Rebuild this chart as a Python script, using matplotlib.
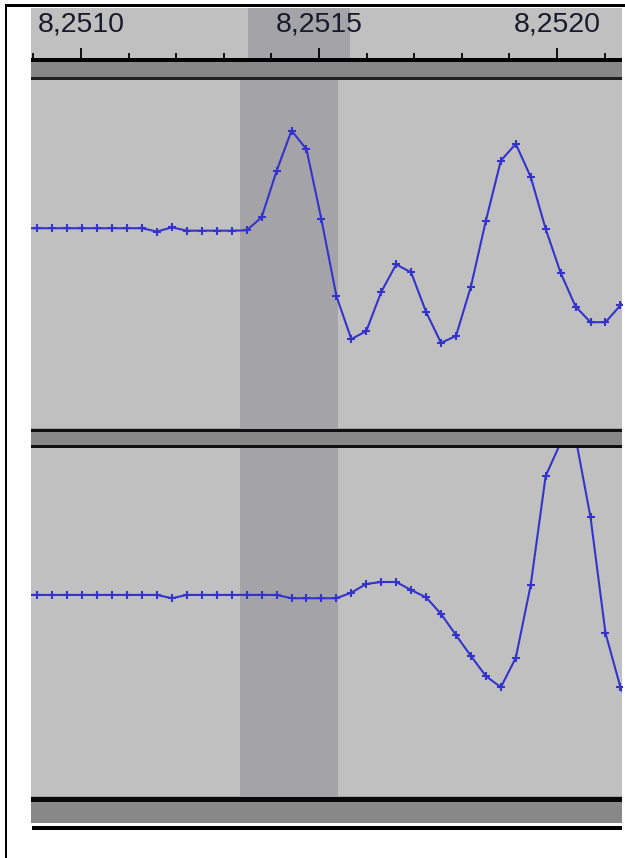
import matplotlib
matplotlib.use("Agg")
import matplotlib.pyplot as plt
from matplotlib.patches import Rectangle
import numpy as np

# ---------------- data ----------------
tick_major = [8.2510, 8.2515, 8.2520]
tick_labels = ["8,2510", "8,2515", "8,2520"]
tick_minor = [8.2509, 8.2511, 8.2512, 8.2513, 8.2514,
              8.2516, 8.2517, 8.2518, 8.2519, 8.2521]

sample_rate = 31840.0          # samples per second (as displayed)
first_sample_time = 8.2508770  # time of the first listed sample

track1 = [0.148, 0.148, 0.148, 0.148, 0.148, 0.148, 0.148, 0.148, 0.148,
          0.129, 0.153, 0.134, 0.134, 0.134, 0.134, 0.136, 0.211, 0.477,
          0.709, 0.602, 0.199, -0.241, -0.489, -0.443, -0.218, -0.060,
          -0.106, -0.333, -0.511, -0.471, -0.187, 0.191, 0.536, 0.633,
          0.443, 0.144, -0.108, -0.302, -0.392, -0.392, -0.295, -0.207]

track2 = [0.158, 0.158, 0.158, 0.158, 0.158, 0.158, 0.158, 0.158, 0.158,
          0.158, 0.139, 0.158, 0.158, 0.158, 0.158, 0.158, 0.158, 0.158,
          0.139, 0.139, 0.139, 0.139, 0.171, 0.221, 0.232, 0.232, 0.186,
          0.144, 0.049, -0.072, -0.192, -0.307, -0.371, -0.203, 0.215,
          0.840, 1.030, 1.060, 0.603, -0.060, -0.371, -0.559]

sel_track = (8.251334, 8.251540)
sel_ruler = (8.251351, 8.251565)
view = (8.2508950, 8.2521366)

# ---------------- layout helpers ----------------
W, H = 625, 858
fig = plt.figure(figsize=(W / 100, H / 100), dpi=100, facecolor="white")


def rect(x0, y0, x1, y1):
    return [x0 / W, 1 - y1 / H, (x1 - x0) / W, (y1 - y0) / H]


def band(x0, y0, x1, y1, color):
    fig.patches.append(Rectangle((x0 / W, 1 - y1 / H), (x1 - x0) / W, (y1 - y0) / H,
                                 transform=fig.transFigure, facecolor=color,
                                 edgecolor="none", zorder=3))


BG = "#c0c0c0"
SEL = "#a3a3a8"
BAND = "#888888"
WAVE = "#3434cc"

# frame lines
band(5, 4, 7, 858, "black")
band(5, 4, 625, 7, "black")

# ---------------- ruler ----------------
rx = fig.add_axes(rect(31, 8, 622, 58))
rx.set_facecolor(BG)
rx.set_xlim(*view)
rx.set_ylim(0, 1)
rx.axvspan(*sel_ruler, color=SEL, lw=0)
for s in rx.spines.values():
    s.set_visible(False)
rx.set_yticks([])
rx.set_xticks(tick_major)
rx.set_xticks(tick_minor, minor=True)
rx.tick_params(axis="x", which="major", direction="in", length=7.5, width=1.3,
               color="black", labelbottom=False)
rx.tick_params(axis="x", which="minor", direction="in", length=3.8, width=1.3,
               color="black")
for t, lab in zip(tick_major, tick_labels):
    rx.text(t, 0.93, lab, ha="center", va="top", fontsize=20.5,
            family="Liberation Sans", color="#1a1a2c")

# ruler / track separator
band(31, 58, 622, 62, "black")
band(31, 62, 622, 76.5, BAND)
band(31, 76.5, 622, 80, "#202020")

# ---------------- tracks ----------------
def track(y0, y1, values):
    ax = fig.add_axes(rect(31, y0, 622, y1))
    ax.set_facecolor(BG)
    ax.set_xlim(*view)
    ax.set_ylim(-1, 1)
    ax.axvspan(*sel_track, color=SEL, lw=0)
    t = first_sample_time + np.arange(len(values)) / sample_rate
    ax.plot(t, values, color=WAVE, lw=1.5, marker="+", ms=5.5, mew=1.5)
    ax.set_xticks([])
    ax.set_yticks([])
    for s in ax.spines.values():
        s.set_visible(False)
    return ax


track(80, 428, track1)
track(448, 797, track2)

# separator between tracks
band(31, 428, 622, 429.3, "#a0a0a0")
band(31, 429.3, 622, 432.3, "#101010")
band(31, 432.3, 622, 445, BAND)
band(31, 445, 622, 448, "#101010")

# bottom of second track
band(31, 796, 622, 797, "#a0a0a0")
band(31, 797, 622, 802, "#080808")
band(31, 802, 622, 823, BAND)
band(32, 826, 622, 830, "black")

fig.savefig("out.png", dpi=100, facecolor="white")
